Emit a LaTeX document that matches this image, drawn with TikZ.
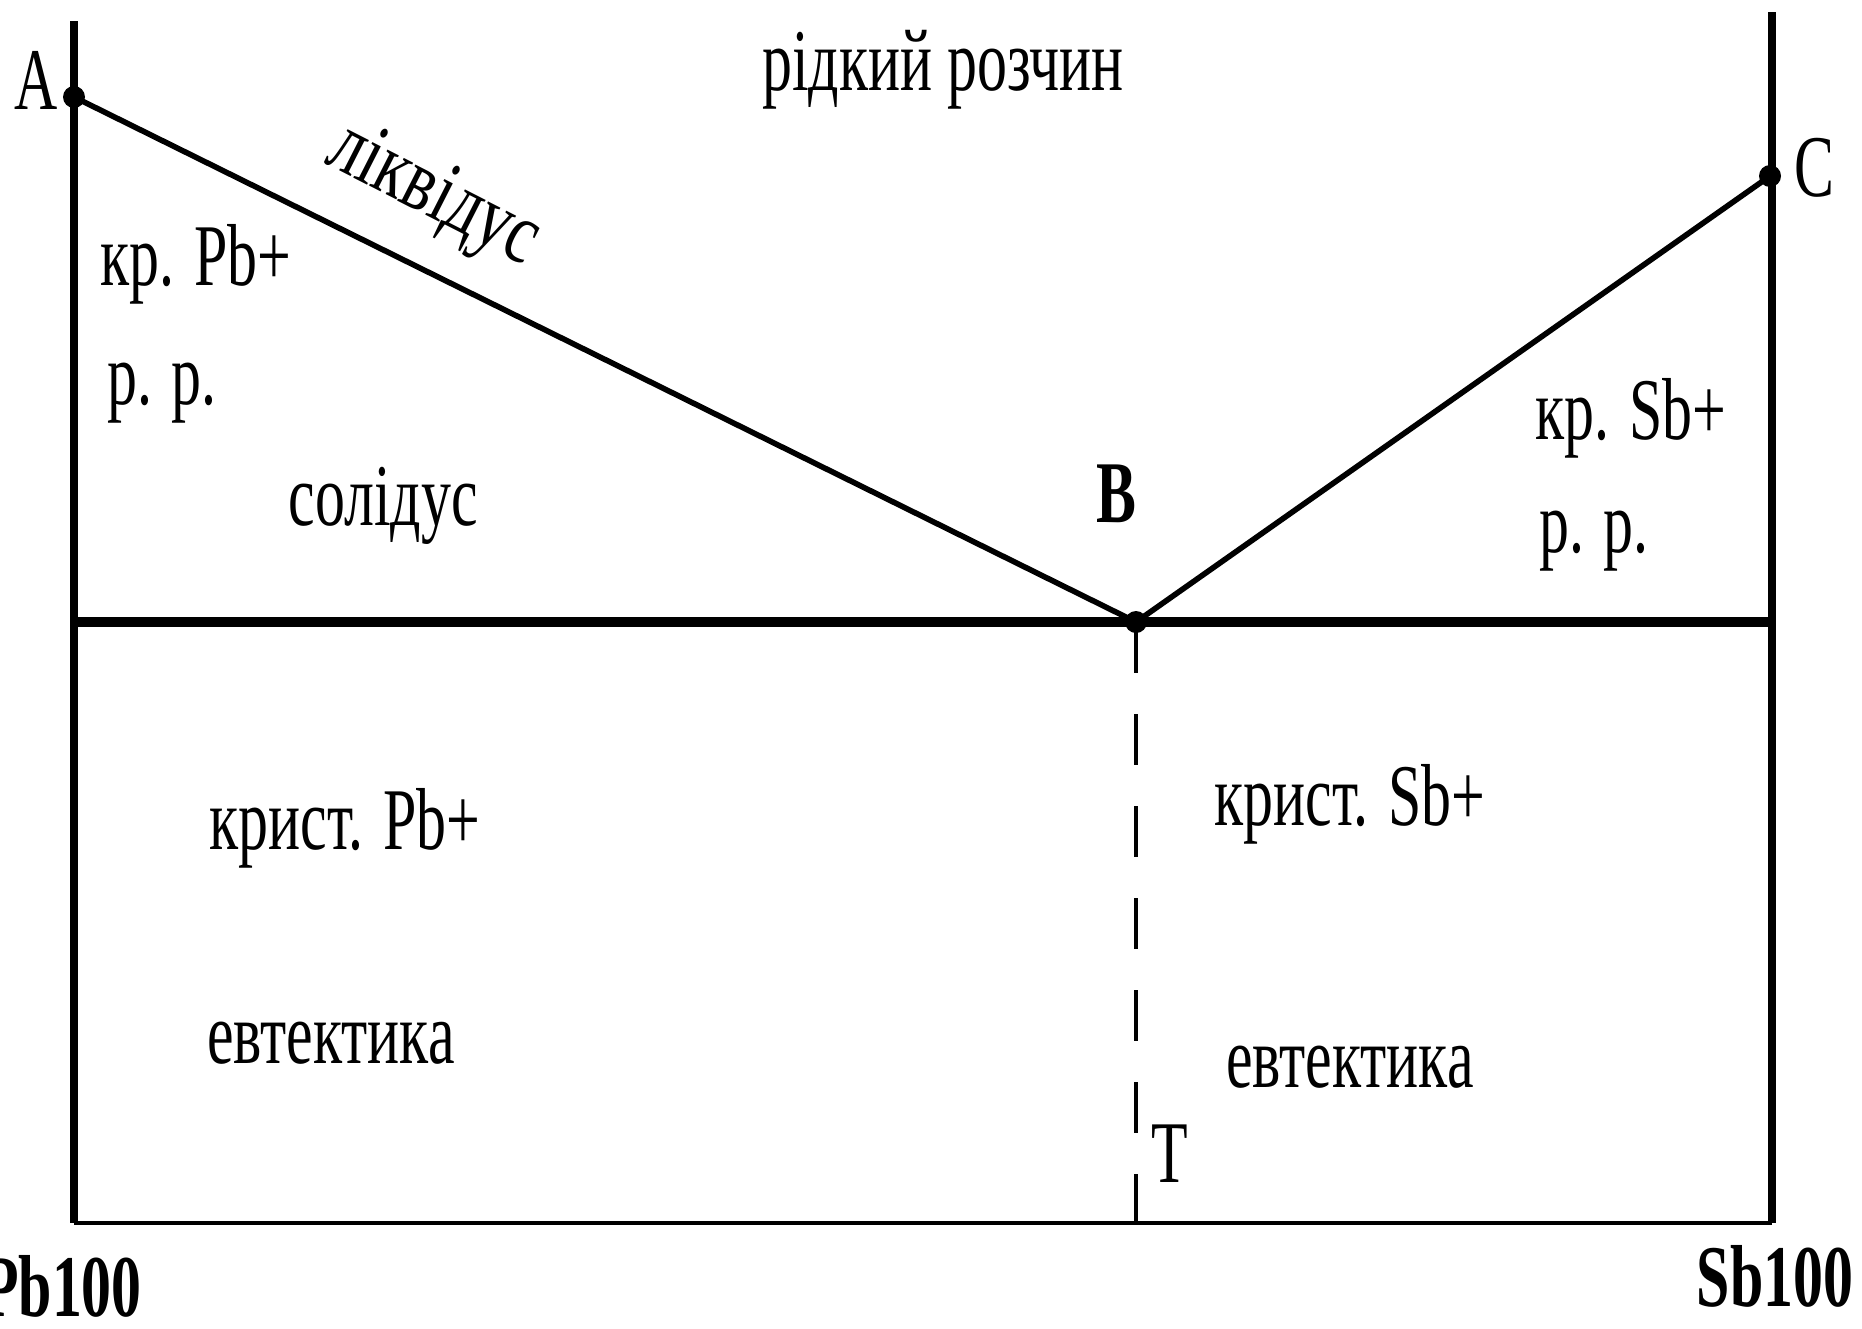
\documentclass[tikz,border=0pt]{standalone}
\usepackage{fontspec}
\usepackage{graphicx}
\setmainfont{Liberation Serif}
\newcommand{\nt}[1]{\scalebox{0.68}[1]{#1}}
\newcommand{\nl}[1]{\scalebox{0.74}[1]{#1}}
\begin{document}
\begin{tikzpicture}[x=0.5pt,y=-0.5pt,
  lbl/.style={inner sep=0pt, anchor=base, font=\fontsize{44}{50}\selectfont},
  blbl/.style={lbl, font=\fontsize{44}{50}\selectfont\bfseries},
  axisln/.style={line width=4pt},
  liqln/.style={line width=2.8pt},
  solln/.style={line width=5pt},
  botln/.style={line width=2.2pt},
  dashln/.style={line width=2pt, dash pattern=on 25.5pt off 20.5pt},
  dotnode/.style={circle, fill=black, inner sep=0pt, minimum size=11pt}]
\useasboundingbox (0,0) rectangle (1862,1328);
% key points
\node[dotnode] (A) at (74,97) {};
\node[dotnode] (B) at (1136,622) {};
\node[dotnode] (C) at (1770,176) {};
\coordinate (LT) at (74,21);
\coordinate (LB) at (74,1223);
\coordinate (RT) at (1772,12);
\coordinate (RB) at (1772,1223);
\coordinate (SL) at (74,622);
\coordinate (SR) at (1772,622);
\coordinate (TB) at (1136,1229);
% axes
\draw[axisln] (LT) -- (LB);
\draw[axisln] (RT) -- (RB);
\draw[botln] (LB) -- (RB);
\draw[solln] (SL) -- (SR);
\draw[dashln] (B.center) -- (TB);
\draw[liqln] (A.center) -- (B.center) -- (C.center);
% labels
\node[lbl] (lA) at (36,109) {\nt{A}};
\node[blbl] (lB) at (1116,522) {\nt{B}};
\node[lbl] (lC) at (1814,196) {\nt{C}};
\node[lbl] (lT) at (1170,1182) {\nt{T}};
\node[blbl] (pb) at (62,1316) {\nt{Pb100}};
\node[blbl] (sb) at (1775,1306) {\nt{Sb100}};
\node[lbl] (liquid) at (943,90) {\nt{рідкий розчин}};
\node[lbl, rotate=-27] (liq) at (424,214) {\nl{ліквідус}};
\node[lbl] (krPb) at (196,285) {\nt{кр. Pb+}};
\node[lbl] (rr1) at (162,404) {\nt{р. р.}};
\node[lbl] (solid) at (383,525) {\nt{солідус}};
\node[lbl] (krSb) at (1631,439) {\nt{кр. Sb+}};
\node[lbl] (rr2) at (1594,552) {\nt{р. р.}};
\node[lbl] (kristPb) at (345,849) {\nt{крист. Pb+}};
\node[lbl] (evt1) at (331,1063) {\nt{евтектика}};
\node[lbl] (kristSb) at (1350,825) {\nt{крист. Sb+}};
\node[lbl] (evt2) at (1350,1087) {\nt{евтектика}};
\end{tikzpicture}
\end{document}
